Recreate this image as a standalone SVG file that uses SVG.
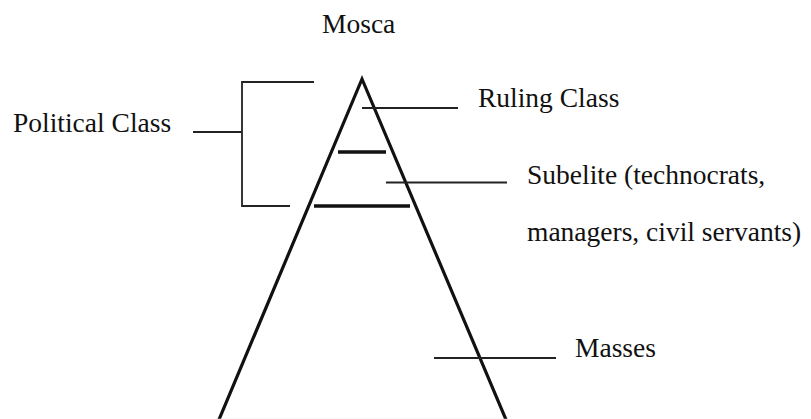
<svg xmlns="http://www.w3.org/2000/svg" width="811" height="419" viewBox="0 0 811 419">
  <style>
    text { font-family: 'Liberation Serif', 'Tinos', 'DejaVu Serif', serif; font-size: 27.5px; fill: #111; }
    .side { stroke: #111; stroke-width: 3.2; fill: none; stroke-linecap: round; }
    .bar { stroke: #111; stroke-width: 3.5; fill: none; }
    .lead { stroke: #222; stroke-width: 1.8; fill: none; }
  </style>
  <rect width="811" height="419" fill="#fff"/>

  <text x="322" y="33" font-family="Liberation Serif, serif">Mosca</text>

  <g id="pyramid">
    <path class="side" d="M218,422 L362,79 L507,422"/>
    <line x1="218" y1="419.5" x2="507" y2="419.5" stroke="#e2e2e2" stroke-width="1.5"/>
  </g>

  <g id="strata">
    <line class="bar" x1="338" y1="152" x2="386" y2="152"/>
    <line class="bar" x1="314" y1="206" x2="410" y2="206"/>
  </g>

  <g id="connectors">
    <!-- political class bracket -->
    <path class="lead" d="M314,82 H242 V206 H290"/>
    <line class="lead" x1="193" y1="132" x2="242" y2="132"/>
    <!-- leaders to labels -->
    <line class="lead" x1="362" y1="108" x2="458" y2="108"/>
    <line class="lead" x1="386" y1="182.5" x2="507" y2="182.5"/>
    <line class="lead" x1="434" y1="358" x2="556" y2="358"/>
  </g>

  <g id="political-class">
    <text x="13" y="132" font-family="Liberation Serif, serif">Political Class</text>
  </g>
  <g id="ruling-class">
    <text x="478" y="107" font-family="Liberation Serif, serif">Ruling Class</text>
  </g>
  <g id="subelite">
    <text x="527" y="184" font-family="Liberation Serif, serif">Subelite (technocrats,</text>
    <text x="527" y="241" font-family="Liberation Serif, serif">managers, civil servants)</text>
  </g>
  <g id="masses">
    <text x="575" y="357" font-family="Liberation Serif, serif">Masses</text>
  </g>
</svg>
